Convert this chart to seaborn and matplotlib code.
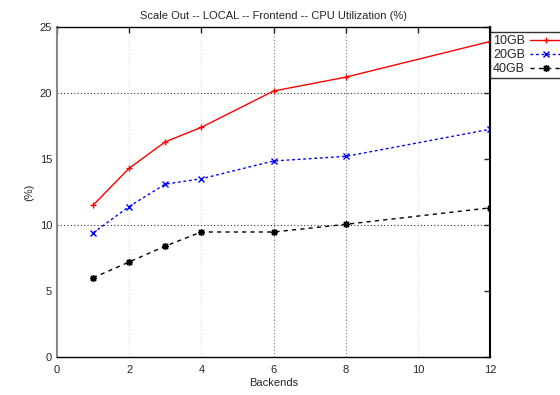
import matplotlib
matplotlib.use("Agg")
import matplotlib.pyplot as plt
import seaborn as sns
import pandas as pd

backends = [1, 2, 3, 4, 6, 8, 12]
cpu_10gb = [11.5, 14.3, 16.3, 17.4, 20.15, 21.2, 23.9]
cpu_20gb = [9.4, 11.4, 13.1, 13.5, 14.85, 15.2, 17.25]
cpu_40gb = [6.0, 7.2, 8.4, 9.47, 9.47, 10.05, 11.3]
series_names = ["10GB", "20GB", "40GB"]
x_ticks = [0, 2, 4, 6, 8, 10, 12]
y_ticks = [0, 5, 10, 15, 20, 25]

rows = []
for name, vals in zip(series_names, [cpu_10gb, cpu_20gb, cpu_40gb]):
    for b, v in zip(backends, vals):
        rows.append({"Backends": b, "CPU": v, "Series": name})
df = pd.DataFrame(rows)

sns.set_style("white")
plt.rcParams['font.family'] = ['Liberation Sans', 'DejaVu Sans']
plt.rcParams['font.size'] = 8

fig = plt.figure(figsize=(5.6, 3.95), dpi=100)
ax = fig.add_axes([57/560, 1 - 357/395, (490 - 57)/560, (357 - 27)/395])

colors = {"10GB": "#ff0000", "20GB": "#0000ff", "40GB": "#000000"}
markers = {"10GB": "+", "20GB": "x", "40GB": (8, 2, 0)}
dashes = {"10GB": "", "20GB": (2, 2), "40GB": (3, 3)}

sns.lineplot(data=df, x="Backends", y="CPU", hue="Series", style="Series",
             palette=colors, markers=markers, dashes=dashes, ax=ax,
             linewidth=1.0, markersize=5, markeredgewidth=1.0, legend=False)

for line in ax.get_lines():
    line.set_markeredgecolor(line.get_color())
    line.set_markerfacecolor(line.get_color())

# grid
for xv in [2, 4, 10]:
    ax.axvline(xv, color="#dddddd", linestyle=(0, (1, 2)), linewidth=0.8, zorder=0)
for xv in [6, 8]:
    ax.axvline(xv, color="#777777", linestyle=(0, (1, 2)), linewidth=0.8, zorder=0)
for yv in [10, 20]:
    ax.axhline(yv, color="#333333", linestyle=(0, (1, 2)), linewidth=0.8, zorder=0)

ax.set_xlim(0, 12)
ax.set_ylim(0, 25)
ax.set_xticks(x_ticks)
ax.set_yticks(y_ticks)
ax.tick_params(direction="in", top=True, right=True, length=4, width=1, labelsize=8)
ax.tick_params(axis="x", pad=6)
for s in ax.spines.values():
    s.set_color("black")
    s.set_linewidth(1)
ax.spines["left"].set_color("#888888")
ax.spines["left"].set_linewidth(1.5)
ax.spines["right"].set_linewidth(1.5)

ax.set_xlabel("Backends", fontsize=8, labelpad=2)
ax.set_ylabel("(%)", fontsize=8)
ax.set_title("Scale Out -- LOCAL -- Frontend -- CPU Utilization (%)", fontsize=8, pad=6)

handles = ax.get_lines()[:3]
leg = ax.legend(handles, series_names, loc="upper left",
                bbox_to_anchor=(490/560, 1 - 32/395), bbox_transform=fig.transFigure,
                markerfirst=False, frameon=True, fancybox=False, fontsize=9,
                numpoints=1, handlelength=2.6, borderaxespad=0, borderpad=0.25,
                labelspacing=0.15, handletextpad=0.4)
leg.get_frame().set_edgecolor("black")
leg.get_frame().set_linewidth(1)
leg.set_clip_on(False)

fig.savefig("out.png", dpi=100)
